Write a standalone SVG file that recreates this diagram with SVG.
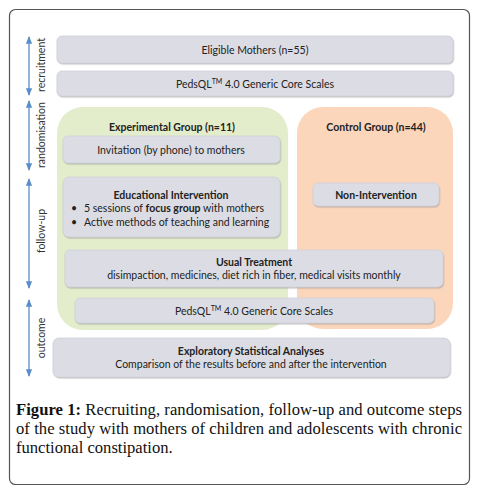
<svg xmlns="http://www.w3.org/2000/svg" width="478" height="492" viewBox="0 0 478 492">
<defs>
<marker id="ah" viewBox="0 0 8 8" refX="7" refY="4" markerWidth="6" markerHeight="6" orient="auto-start-reverse">
<path d="M0,0.8 L8,4 L0,7.2 Z" fill="#5b8ec6"/>
</marker>
<filter id="sh" x="-5%" y="-10%" width="110%" height="130%">
<feDropShadow dx="0.6" dy="1.2" stdDeviation="0.6" flood-color="#888" flood-opacity="0.5"/>
</filter>
</defs>
<style>
.frame{fill:#fff;stroke:#555;stroke-width:1.2}
.box{fill:#dcdde4;stroke:#cfd0d8;stroke-width:0.8;filter:url(#sh)}
.grn{fill:#e3eccb}
.org{fill:#fbd6bb}
.t{font-family:Lato,"Open Sans",sans-serif;font-size:10.5px;fill:#222;text-anchor:middle}
.tl{font-family:Lato,"Open Sans",sans-serif;font-size:10.5px;fill:#222;text-anchor:start}
.b{font-weight:bold}
.ax{font-family:Lato,"Open Sans",sans-serif;font-size:10.5px;fill:#333;text-anchor:middle}
.cap{font-family:"Liberation Serif",serif;font-size:16.6px;fill:#111}
.arr{stroke:#5b8ec6;stroke-width:1.3;fill:none;marker-start:url(#ah);marker-end:url(#ah)}
</style>
<rect class="frame" x="9.5" y="9.5" width="460" height="475" rx="6"/>

<g id="connectors">
<line class="arr" x1="29" y1="37" x2="29" y2="95"/>
<line class="arr" x1="29" y1="101" x2="29" y2="170"/>
<line class="arr" x1="29" y1="179" x2="29" y2="288"/>
<line class="arr" x1="29" y1="300" x2="29" y2="376"/>
</g>

<g id="axis-labels">
<text class="ax" transform="translate(45,65) rotate(-90)">recruitment</text>
<text class="ax" transform="translate(45,135) rotate(-90)">randomisation</text>
<text class="ax" transform="translate(45,231) rotate(-90)">follow-up</text>
<text class="ax" transform="translate(45,338) rotate(-90)">outcome</text>
</g>

<g id="experimental">
<rect class="grn" x="57" y="107" width="231" height="223" rx="26"/>
<text class="t b" x="172" y="131">Experimental Group (n=11)</text>
</g>
<g id="control">
<rect class="org" x="297" y="107" width="156" height="222" rx="26"/>
<text class="t b" x="376" y="131">Control Group (n=44)</text>
</g>

<g id="eligible">
<rect class="box" x="57" y="36" width="396" height="27" rx="5"/>
<text class="t" x="255" y="53.5">Eligible Mothers (n=55)</text>
</g>
<g id="pedsql1">
<rect class="box" x="57" y="71" width="396" height="25" rx="5"/>
<text class="t" x="255" y="87.5">PedsQL<tspan font-size="7" dy="-4">TM</tspan><tspan dy="4"> 4.0 Generic Core Scales</tspan></text>
</g>
<g id="invitation">
<rect class="box" x="63" y="136" width="217" height="27" rx="5"/>
<text class="t" x="171" y="153.5">Invitation (by phone) to mothers</text>
</g>
<g id="educational">
<rect class="box" x="63" y="177" width="217" height="60" rx="6"/>
<text class="t b" x="171" y="199">Educational Intervention</text>
<text class="tl" x="71" y="212">•</text>
<text class="tl" x="84" y="212">5 sessions of <tspan font-weight="bold">focus group</tspan> with mothers</text>
<text class="tl" x="71" y="226">•</text>
<text class="tl" x="84" y="226">Active methods of teaching and learning</text>
</g>
<g id="nonintervention">
<rect class="box" x="313" y="183" width="126" height="23" rx="5"/>
<text class="t b" x="376" y="198.5">Non-Intervention</text>
</g>
<g id="usual">
<rect class="box" x="65" y="250" width="378" height="37" rx="5"/>
<text class="t b" x="254" y="266">Usual Treatment</text>
<text class="t" x="254" y="279">disimpaction, medicines, diet rich in fiber, medical visits monthly</text>
</g>
<g id="pedsql2">
<rect class="box" x="75" y="298" width="359" height="25" rx="5"/>
<text class="t" x="254" y="314.5">PedsQL<tspan font-size="7" dy="-4">TM</tspan><tspan dy="4"> 4.0 Generic Core Scales</tspan></text>
</g>
<g id="exploratory">
<rect class="box" x="53" y="338" width="397" height="39" rx="6"/>
<text class="t b" x="251" y="355">Exploratory Statistical Analyses</text>
<text class="t" x="251" y="368">Comparison of the results before and after the intervention</text>
</g>

<g id="caption">
<text class="cap" x="16" y="415" textLength="446" lengthAdjust="spacing"><tspan font-weight="bold">Figure 1:</tspan> Recruiting, randomisation, follow-up and outcome steps</text>
<text class="cap" x="16" y="434" textLength="446" lengthAdjust="spacing">of the study with mothers of children and adolescents with chronic</text>
<text class="cap" x="16" y="453">functional constipation.</text>
</g>
</svg>
